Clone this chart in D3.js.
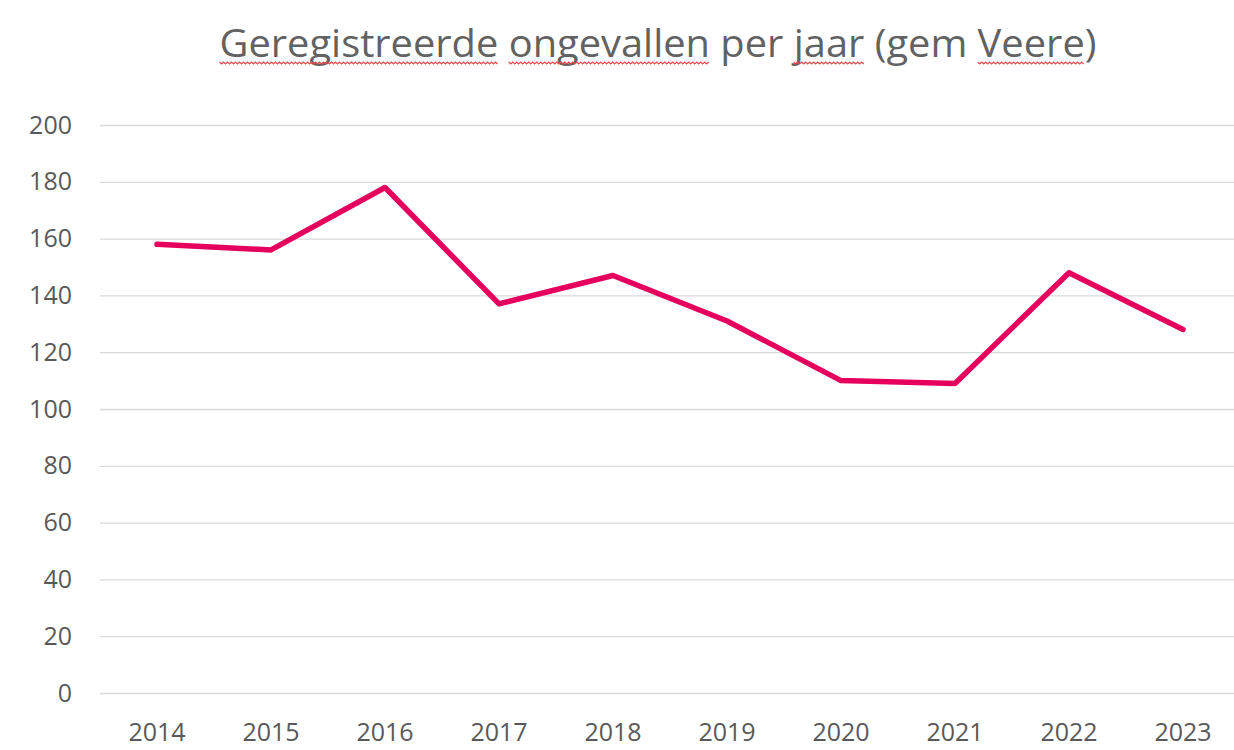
<!DOCTYPE html>
<html>
<head>
<meta charset="utf-8">
<script src="https://cdn.jsdelivr.net/npm/d3@7"></script>
<style>
  body { margin: 0; background: #fff; }
  text { font-family: "Open Sans", "Noto Sans", sans-serif; }
</style>
</head>
<body>
<div id="chart"></div>
<script>
let width = 1234,
    height = 750,
    margin = ({ top: 125, right: -6, bottom: 57, left: 100 });

const years = ["2014", "2015", "2016", "2017", "2018", "2019", "2020", "2021", "2022", "2023"];
const accidents = [158, 156, 178, 137, 147, 131, 110, 109, 148, 128];
const yTicks = [0, 20, 40, 60, 80, 100, 120, 140, 160, 180, 200];
const title = "Geregistreerde ongevallen per jaar (gem Veere)";
const misspelled = ["Geregistreerde", "ongevallen", "jaar", "Veere"];

const svg = d3.select("#chart")
  .append("svg")
  .attr("width", width)
  .attr("height", height)
  .attr("viewBox", [0, 0, width, height]);

let x = d3.scaleBand()
  .domain(years)
  .range([margin.left, width - margin.right]);

let y = d3.scaleLinear()
  .domain([0, 200])
  .range([height - margin.bottom, margin.top]);

// gridlines + y labels
svg.append("g")
  .attr("transform", `translate(${margin.left},0)`)
  .call(d3.axisLeft(y).tickValues(yTicks).tickSize(-(width - margin.right - margin.left)).tickPadding(28))
  .call(g => g.select(".domain").remove())
  .call(g => g.selectAll(".tick line").attr("stroke", "#d9d9d9").attr("stroke-width", 1.3))
  .call(g => g.selectAll(".tick text")
    .attr("fill", "#595959")
    .style("font-size", "25px")
    .style("font-family", "'Open Sans', sans-serif"));

// x labels
svg.append("g")
  .attr("transform", `translate(0,${height - margin.bottom})`)
  .call(d3.axisBottom(x).tickSize(0).tickPadding(30))
  .call(g => g.select(".domain").remove())
  .call(g => g.selectAll(".tick text")
    .attr("fill", "#595959")
    .style("font-size", "25px")
    .style("font-family", "'Open Sans', sans-serif"));

const line = d3.line()
  .x((d, i) => x(years[i]) + x.bandwidth() / 2)
  .y(d => y(d));

svg.append("path")
  .datum(accidents)
  .attr("fill", "none")
  .attr("stroke", "#E6005E")
  .attr("stroke-width", 5.5)
  .attr("stroke-linejoin", "round")
  .attr("stroke-linecap", "round")
  .attr("d", line);

// title
const t = svg.append("text")
  .attr("x", 658)
  .attr("y", 57)
  .attr("text-anchor", "middle")
  .attr("fill", "#626262")
  .attr("textLength", 877)
  .attr("lengthAdjust", "spacingAndGlyphs")
  .style("font-size", "38.5px")
  .text(title);

// spell-check squiggles under some words
const node = t.node();
misspelled.forEach(w => {
  const idx = title.indexOf(w);
  const start = node.getStartPositionOfChar(idx).x;
  const end = node.getEndPositionOfChar(idx + w.length - 1).x;
  let pts = [];
  for (let px = start, k = 0; px <= end; px += 2, k++) {
    pts.push([px, 62 + (k % 2 === 0 ? 0 : 2)]);
  }
  svg.append("path")
    .attr("d", d3.line()(pts))
    .attr("fill", "none")
    .attr("stroke", "#f04848")
    .attr("stroke-width", 1.2);
});
</script>
</body>
</html>
